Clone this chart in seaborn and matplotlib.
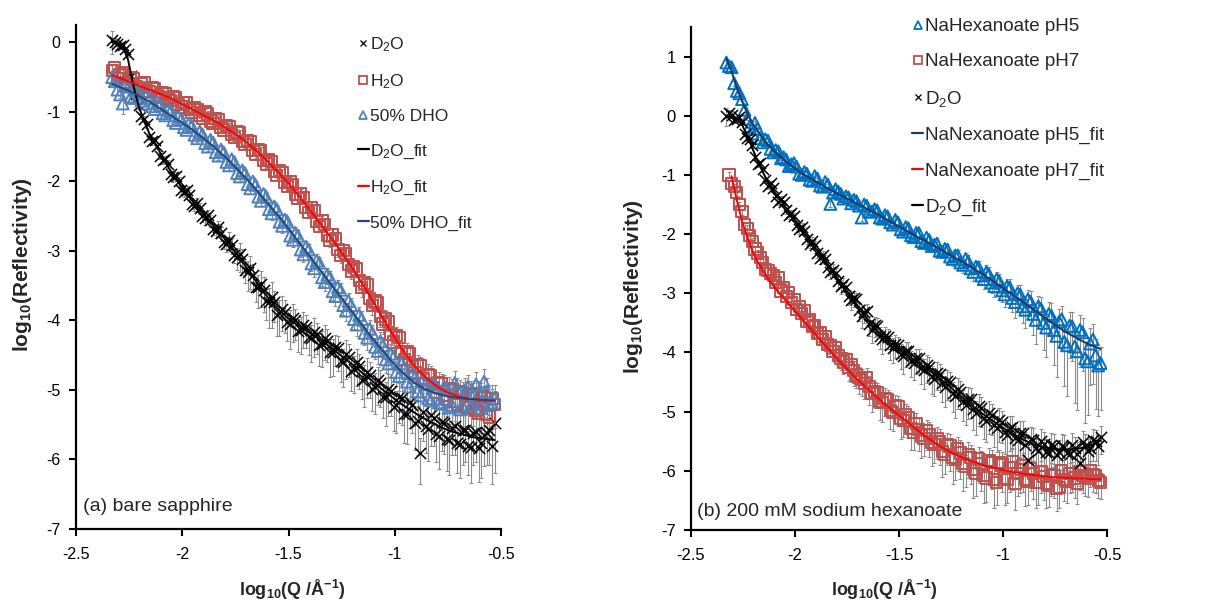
import numpy as np
import pandas as pd
import matplotlib
matplotlib.use("Agg")
import matplotlib.pyplot as plt
import seaborn as sns
from matplotlib.lines import Line2D
from matplotlib.ticker import FuncFormatter, MultipleLocator

# log10(Q) grid (fits use log_q; data points sit on both grids)
log_q = [-2.33, -2.305, -2.28, -2.255, -2.23, -2.205, -2.18, -2.155, -2.13, -2.105,
         -2.08, -2.055, -2.03, -2.005, -1.98, -1.955, -1.93, -1.905, -1.88, -1.855,
         -1.83, -1.805, -1.78, -1.755, -1.73, -1.705, -1.68, -1.655, -1.63, -1.605,
         -1.58, -1.555, -1.53, -1.505, -1.48, -1.455, -1.43, -1.405, -1.38, -1.355,
         -1.33, -1.305, -1.28, -1.255, -1.23, -1.205, -1.18, -1.155, -1.13, -1.105,
         -1.08, -1.055, -1.03, -1.005, -0.98, -0.955, -0.93, -0.905, -0.88, -0.855,
         -0.83, -0.805, -0.78, -0.755, -0.73, -0.705, -0.68, -0.655, -0.63, -0.605,
         -0.58, -0.555, -0.53]
log_q_mid = [-2.3175, -2.2925, -2.2675, -2.2425, -2.2175, -2.1925, -2.1675, -2.1425, -2.1175, -2.0925,
             -2.0675, -2.0425, -2.0175, -1.9925, -1.9675, -1.9425, -1.9175, -1.8925, -1.8675, -1.8425,
             -1.8175, -1.7925, -1.7675, -1.7425, -1.7175, -1.6925, -1.6675, -1.6425, -1.6175, -1.5925,
             -1.5675, -1.5425, -1.5175, -1.4925, -1.4675, -1.4425, -1.4175, -1.3925, -1.3675, -1.3425,
             -1.3175, -1.2925, -1.2675, -1.2425, -1.2175, -1.1925, -1.1675, -1.1425, -1.1175, -1.0925,
             -1.0675, -1.0425, -1.0175, -0.9925, -0.9675, -0.9425, -0.9175, -0.8925, -0.8675, -0.8425,
             -0.8175, -0.7925, -0.7675, -0.7425, -0.7175, -0.6925, -0.6675, -0.6425, -0.6175, -0.5925,
             -0.5675, -0.5425]

# === (a) bare sapphire ===
a_d2o = [0.03, -0.02, -0.04, -0.17, -0.68, -0.90, -1.10, -1.36, -1.40, -1.63,
         -1.68, -1.90, -1.92, -2.12, -2.13, -2.32, -2.31, -2.50, -2.49, -2.68,
         -2.66, -2.87, -2.84, -3.06, -3.05, -3.28, -3.25, -3.52, -3.47, -3.72,
         -3.66, -3.92, -3.83, -4.02, -3.96, -4.15, -4.06, -4.24, -4.16, -4.36,
         -4.25, -4.46, -4.38, -4.58, -4.48, -4.72, -4.60, -4.85, -4.74, -4.98,
         -4.86, -5.10, -4.98, -5.25, -5.10, -5.35, -5.18, -5.47, -5.90, -5.52,
         -5.36, -5.64, -5.46, -5.70, -5.54, -5.76, -5.58, -5.80, -5.62, -5.84,
         -5.65, -5.58, -5.47]
a_d2o_mid = [0.01, -0.05, -0.10, -0.48, -0.74, -1.06, -1.18, -1.42, -1.49, -1.69,
             -1.75, -1.94, -1.99, -2.15, -2.19, -2.35, -2.38, -2.53, -2.56, -2.71,
             -2.74, -2.90, -2.92, -3.09, -3.12, -3.31, -3.34, -3.52, -3.56, -3.73,
             -3.74, -3.89, -3.88, -4.05, -4.00, -4.14, -4.10, -4.25, -4.20, -4.34,
             -4.30, -4.46, -4.40, -4.60, -4.52, -4.70, -4.66, -4.84, -4.78, -4.96,
             -4.90, -5.10, -5.02, -5.22, -5.12, -5.34, -5.22, -5.45, -5.32, -5.56,
             -5.40, -5.66, -5.48, -5.72, -5.52, -5.78, -5.58, -5.82, -5.60, -5.76,
             -5.62, -5.80]
a_d2o_err = [0.20, 0.08, 0.05, 0.04, 0.04, 0.05, 0.04, 0.05, 0.05, 0.05,
             0.06, 0.06, 0.07, 0.06, 0.08, 0.07, 0.09, 0.08, 0.10, 0.09,
             0.12, 0.10, 0.14, 0.12, 0.25, 0.18, 0.30, 0.22, 0.34, 0.28,
             0.45, 0.30, 0.32, 0.28, 0.35, 0.30, 0.33, 0.26, 0.36, 0.30,
             0.32, 0.35, 0.28, 0.30, 0.36, 0.30, 0.34, 0.28, 0.38, 0.32,
             0.35, 0.30, 0.40, 0.34, 0.38, 0.42, 0.36, 0.40, 0.45, 0.38,
             0.44, 0.40, 0.42, 0.46, 0.40, 0.44, 0.50, 0.42, 0.46, 0.48,
             0.44, 0.50, 0.72]
a_d2o_mid_err = [0.06, 0.05, 0.04, 0.05, 0.05, 0.04, 0.05, 0.05, 0.05, 0.06,
                 0.06, 0.07, 0.06, 0.07, 0.08, 0.08, 0.09, 0.09, 0.10, 0.11,
                 0.11, 0.12, 0.13, 0.18, 0.22, 0.26, 0.24, 0.30, 0.32, 0.38,
                 0.28, 0.34, 0.30, 0.36, 0.28, 0.34, 0.30, 0.35, 0.28, 0.33,
                 0.30, 0.34, 0.32, 0.36, 0.30, 0.35, 0.32, 0.40, 0.33, 0.38,
                 0.34, 0.42, 0.36, 0.40, 0.38, 0.44, 0.40, 0.48, 0.42, 0.46,
                 0.40, 0.48, 0.44, 0.50, 0.42, 0.48, 0.46, 0.52, 0.44, 0.50,
                 0.46, 0.55]
a_d2o_fit = [0.00, -0.01, -0.06, -0.25, -0.62, -0.92, -1.13, -1.31, -1.45, -1.58,
             -1.72, -1.85, -1.96, -2.07, -2.17, -2.27, -2.36, -2.45, -2.54, -2.63,
             -2.72, -2.81, -2.90, -3.00, -3.10, -3.21, -3.32, -3.43, -3.54, -3.64,
             -3.73, -3.82, -3.89, -3.96, -4.02, -4.07, -4.12, -4.17, -4.22, -4.27,
             -4.32, -4.38, -4.44, -4.50, -4.56, -4.62, -4.68, -4.75, -4.81, -4.87,
             -4.94, -5.00, -5.06, -5.12, -5.18, -5.23, -5.28, -5.33, -5.38, -5.42,
             -5.46, -5.50, -5.54, -5.57, -5.60, -5.62, -5.64, -5.66, -5.68, -5.69,
             -5.70, -5.71, -5.72]

a_h2o = [-0.40, -0.52, -0.44, -0.61, -0.52, -0.66, -0.58, -0.71, -0.66, -0.79,
         -0.73, -0.84, -0.79, -0.93, -0.87, -1.01, -0.96, -1.09, -1.03, -1.17,
         -1.11, -1.26, -1.21, -1.37, -1.30, -1.47, -1.43, -1.61, -1.56, -1.75,
         -1.71, -1.91, -1.87, -2.07, -2.04, -2.25, -2.23, -2.45, -2.42, -2.65,
         -2.62, -2.85, -2.82, -3.06, -3.04, -3.29, -3.26, -3.53, -3.49, -3.78,
         -3.75, -4.05, -4.01, -4.31, -4.24, -4.56, -4.47, -4.75, -4.65, -4.91,
         -4.79, -5.03, -4.91, -5.13, -4.99, -5.21, -5.04, -5.26, -5.07, -5.33,
         -5.11, -5.39, -5.21]
a_h2o_mid = [-0.36, -0.47, -0.58, -0.50, -0.64, -0.60, -0.70, -0.65, -0.76, -0.72,
             -0.81, -0.78, -0.89, -0.86, -0.97, -0.94, -1.05, -1.00, -1.13, -1.09,
             -1.22, -1.19, -1.32, -1.29, -1.43, -1.41, -1.55, -1.54, -1.70, -1.68,
             -1.85, -1.84, -2.01, -2.00, -2.18, -2.18, -2.37, -2.37, -2.57, -2.57,
             -2.77, -2.77, -2.98, -2.99, -3.20, -3.22, -3.43, -3.46, -3.68, -3.72,
             -3.94, -3.98, -4.20, -4.22, -4.45, -4.45, -4.66, -4.64, -4.83, -4.78,
             -4.96, -4.90, -5.08, -4.98, -5.16, -5.02, -5.22, -5.05, -5.30, -5.08,
             -5.35, -5.12]
a_h2o_err = [0.10, 0.05, 0.04, 0.04, 0.03, 0.03, 0.03, 0.03, 0.03, 0.03,
             0.03, 0.03, 0.03, 0.03, 0.04, 0.03, 0.04, 0.04, 0.04, 0.04,
             0.05, 0.04, 0.05, 0.05, 0.05, 0.05, 0.06, 0.05, 0.06, 0.06,
             0.06, 0.07, 0.06, 0.07, 0.08, 0.07, 0.08, 0.08, 0.09, 0.08,
             0.10, 0.09, 0.10, 0.11, 0.10, 0.12, 0.11, 0.13, 0.12, 0.14,
             0.13, 0.15, 0.14, 0.16, 0.15, 0.18, 0.16, 0.20, 0.18, 0.22,
             0.20, 0.24, 0.22, 0.25, 0.24, 0.28, 0.25, 0.30, 0.27, 0.32,
             0.28, 0.30, 0.34]
a_h2o_mid_err = [0.06, 0.05, 0.04, 0.03, 0.03, 0.03, 0.03, 0.03, 0.03, 0.03,
                 0.03, 0.03, 0.03, 0.04, 0.04, 0.04, 0.04, 0.04, 0.04, 0.05,
                 0.05, 0.05, 0.05, 0.05, 0.05, 0.06, 0.06, 0.06, 0.06, 0.07,
                 0.07, 0.07, 0.07, 0.08, 0.08, 0.08, 0.08, 0.09, 0.09, 0.09,
                 0.10, 0.10, 0.11, 0.11, 0.12, 0.12, 0.13, 0.13, 0.14, 0.14,
                 0.15, 0.15, 0.16, 0.17, 0.18, 0.19, 0.20, 0.21, 0.22, 0.23,
                 0.24, 0.25, 0.26, 0.26, 0.28, 0.28, 0.30, 0.30, 0.32, 0.32,
                 0.34, 0.34]
a_h2o_fit = [-0.47, -0.50, -0.53, -0.56, -0.59, -0.62, -0.65, -0.68, -0.71, -0.74,
             -0.77, -0.80, -0.84, -0.88, -0.92, -0.96, -1.00, -1.04, -1.08, -1.12,
             -1.16, -1.21, -1.26, -1.31, -1.36, -1.42, -1.48, -1.55, -1.62, -1.69,
             -1.77, -1.85, -1.93, -2.01, -2.10, -2.19, -2.29, -2.39, -2.49, -2.59,
             -2.69, -2.79, -2.89, -3.00, -3.11, -3.22, -3.34, -3.46, -3.58, -3.71,
             -3.84, -3.97, -4.10, -4.22, -4.34, -4.46, -4.56, -4.66, -4.74, -4.82,
             -4.88, -4.94, -4.99, -5.03, -5.06, -5.09, -5.11, -5.12, -5.13, -5.14,
             -5.15, -5.15, -5.16]

a_dho = [-0.50, -0.68, -0.88, -0.64, -0.80, -0.72, -0.88, -0.80, -0.96, -0.90,
         -1.05, -0.99, -1.16, -1.10, -1.26, -1.20, -1.38, -1.32, -1.50, -1.44,
         -1.63, -1.58, -1.77, -1.72, -1.93, -1.88, -2.10, -2.05, -2.28, -2.22,
         -2.46, -2.40, -2.64, -2.58, -2.84, -2.78, -3.05, -2.98, -3.25, -3.17,
         -3.45, -3.38, -3.65, -3.56, -3.86, -3.78, -4.06, -3.98, -4.25, -4.18,
         -4.44, -4.36, -4.62, -4.52, -4.80, -4.68, -4.95, -4.82, -5.08, -4.92,
         -5.15, -4.96, -5.20, -4.98, -5.22, -5.00, -5.24, -4.95, -5.20, -5.05,
         -4.88, -5.22, -5.12]
a_dho_mid = [-0.56, -0.75, -0.62, -0.78, -0.70, -0.84, -0.76, -0.92, -0.86, -1.02,
             -0.96, -1.12, -1.06, -1.22, -1.16, -1.33, -1.28, -1.45, -1.40, -1.58,
             -1.54, -1.72, -1.68, -1.88, -1.84, -2.04, -2.00, -2.22, -2.18, -2.40,
             -2.36, -2.58, -2.55, -2.78, -2.74, -2.98, -2.94, -3.18, -3.14, -3.38,
             -3.34, -3.58, -3.52, -3.78, -3.72, -3.98, -3.92, -4.18, -4.12, -4.38,
             -4.30, -4.56, -4.48, -4.74, -4.62, -4.88, -4.76, -5.02, -4.86, -5.12,
             -4.92, -5.18, -4.95, -5.25, -4.90, -5.28, -5.00, -5.22, -4.92, -5.26,
             -5.02, -5.18]
a_dho_err = [0.12, 0.08, 0.15, 0.05, 0.05, 0.04, 0.04, 0.04, 0.04, 0.04,
             0.04, 0.04, 0.05, 0.04, 0.05, 0.05, 0.05, 0.05, 0.06, 0.05,
             0.06, 0.06, 0.07, 0.06, 0.07, 0.07, 0.08, 0.07, 0.08, 0.08,
             0.09, 0.08, 0.10, 0.09, 0.10, 0.10, 0.11, 0.10, 0.12, 0.11,
             0.13, 0.12, 0.14, 0.13, 0.15, 0.14, 0.16, 0.15, 0.18, 0.16,
             0.19, 0.18, 0.20, 0.19, 0.22, 0.20, 0.24, 0.22, 0.26, 0.24,
             0.27, 0.25, 0.28, 0.26, 0.30, 0.28, 0.30, 0.28, 0.32, 0.30,
             0.30, 0.32, 0.34]
a_dho_mid_err = [0.06, 0.05, 0.05, 0.04, 0.04, 0.04, 0.04, 0.04, 0.04, 0.04,
                 0.04, 0.05, 0.05, 0.05, 0.05, 0.05, 0.05, 0.06, 0.06, 0.06,
                 0.06, 0.07, 0.07, 0.07, 0.07, 0.08, 0.08, 0.08, 0.08, 0.09,
                 0.09, 0.09, 0.10, 0.10, 0.10, 0.11, 0.11, 0.11, 0.12, 0.12,
                 0.13, 0.13, 0.14, 0.14, 0.15, 0.15, 0.16, 0.17, 0.18, 0.18,
                 0.19, 0.20, 0.20, 0.21, 0.22, 0.23, 0.24, 0.25, 0.26, 0.26,
                 0.27, 0.28, 0.28, 0.29, 0.30, 0.30, 0.30, 0.31, 0.32, 0.32,
                 0.33, 0.34]
a_dho_fit = [-0.60, -0.63, -0.66, -0.69, -0.73, -0.77, -0.81, -0.85, -0.90, -0.95,
             -1.00, -1.05, -1.10, -1.15, -1.20, -1.25, -1.31, -1.37, -1.43, -1.49,
             -1.56, -1.63, -1.70, -1.78, -1.86, -1.94, -2.02, -2.11, -2.20, -2.29,
             -2.38, -2.47, -2.56, -2.66, -2.76, -2.86, -2.96, -3.06, -3.16, -3.26,
             -3.36, -3.46, -3.56, -3.66, -3.76, -3.86, -3.96, -4.06, -4.16, -4.26,
             -4.35, -4.44, -4.53, -4.62, -4.70, -4.77, -4.84, -4.90, -4.95, -4.99,
             -5.02, -5.05, -5.07, -5.09, -5.10, -5.11, -5.12, -5.13, -5.13, -5.14,
             -5.14, -5.15, -5.15]

# === (b) 200 mM sodium hexanoate ===
b_ph5 = [0.90, 0.82, 0.42, 0.28, -0.05, -0.30, -0.22, -0.45, -0.42, -0.62,
         -0.60, -0.70, -0.85, -0.80, -0.98, -0.95, -1.08, -1.02, -1.18, -1.12,
         -1.49, -1.24, -1.32, -1.36, -1.48, -1.44, -1.72, -1.52, -1.62, -1.60,
         -1.74, -1.70, -1.84, -1.80, -1.96, -1.90, -2.05, -1.98, -2.15, -2.10,
         -2.18, -2.28, -2.25, -2.38, -2.36, -2.48, -2.42, -2.58, -2.55, -2.70,
         -2.64, -2.82, -2.76, -2.95, -2.88, -3.08, -3.00, -3.22, -3.10, -3.35,
         -3.22, -3.50, -3.35, -3.62, -3.48, -3.82, -3.55, -3.90, -3.62, -4.10,
         -3.85, -4.05, -4.18]
b_ph5_mid = [0.84, 0.55, 0.38, 0.10, -0.18, -0.12, -0.38, -0.40, -0.56, -0.58,
             -0.72, -0.74, -0.82, -0.86, -1.00, -0.98, -1.10, -1.06, -1.20, -1.16,
             -1.30, -1.28, -1.40, -1.38, -1.42, -1.52, -1.50, -1.62, -1.58, -1.72,
             -1.68, -1.80, -1.76, -1.92, -1.88, -2.02, -1.98, -2.12, -2.06, -2.20,
             -2.16, -2.30, -2.26, -2.42, -2.36, -2.52, -2.46, -2.64, -2.56, -2.76,
             -2.68, -2.88, -2.80, -3.02, -2.90, -3.15, -3.02, -3.28, -3.14, -3.45,
             -3.26, -3.58, -3.38, -3.72, -3.44, -3.88, -3.56, -3.98, -3.66, -4.15,
             -3.78, -4.22]
b_ph5_err = [0.05, 0.04, 0.04, 0.03, 0.03, 0.03, 0.03, 0.03, 0.03, 0.03,
             0.03, 0.03, 0.04, 0.03, 0.04, 0.04, 0.04, 0.04, 0.05, 0.04,
             0.05, 0.05, 0.05, 0.05, 0.06, 0.05, 0.06, 0.06, 0.06, 0.07,
             0.07, 0.07, 0.08, 0.07, 0.08, 0.08, 0.09, 0.08, 0.10, 0.09,
             0.10, 0.11, 0.10, 0.12, 0.11, 0.13, 0.12, 0.14, 0.13, 0.16,
             0.15, 0.18, 0.16, 0.20, 0.18, 0.24, 0.22, 0.28, 0.25, 0.35,
             0.30, 0.45, 0.38, 0.60, 0.45, 0.75, 0.55, 0.95, 0.62, 1.10,
             0.70, 0.90, 0.80]
b_ph5_mid_err = [0.04, 0.04, 0.03, 0.03, 0.03, 0.03, 0.03, 0.03, 0.03, 0.03,
                 0.03, 0.03, 0.03, 0.04, 0.04, 0.04, 0.04, 0.04, 0.05, 0.05,
                 0.05, 0.05, 0.05, 0.06, 0.06, 0.06, 0.06, 0.06, 0.07, 0.07,
                 0.07, 0.08, 0.08, 0.08, 0.08, 0.09, 0.09, 0.09, 0.10, 0.10,
                 0.11, 0.11, 0.12, 0.12, 0.13, 0.13, 0.14, 0.15, 0.15, 0.17,
                 0.17, 0.19, 0.19, 0.22, 0.21, 0.26, 0.25, 0.30, 0.30, 0.40,
                 0.35, 0.50, 0.42, 0.70, 0.50, 0.85, 0.58, 1.00, 0.65, 0.90,
                 0.75, 0.85]
b_ph5_fit = [0.97, 0.75, 0.48, 0.25, 0.05, -0.12, -0.26, -0.38, -0.49, -0.58,
             -0.66, -0.74, -0.81, -0.88, -0.94, -1.00, -1.05, -1.10, -1.15, -1.20,
             -1.25, -1.30, -1.34, -1.39, -1.43, -1.48, -1.52, -1.57, -1.61, -1.66,
             -1.71, -1.76, -1.81, -1.86, -1.91, -1.96, -2.01, -2.06, -2.10, -2.15,
             -2.20, -2.25, -2.30, -2.35, -2.40, -2.45, -2.50, -2.55, -2.61, -2.66,
             -2.72, -2.78, -2.84, -2.90, -2.96, -3.02, -3.08, -3.14, -3.21, -3.27,
             -3.33, -3.40, -3.46, -3.52, -3.58, -3.64, -3.69, -3.74, -3.79, -3.83,
             -3.87, -3.91, -3.94]

b_ph7 = [np.nan, -1.15, -1.30, -1.62, -1.90, -2.12, -2.32, -2.48, -2.62, -2.70,
         -2.74, -2.90, -2.98, -3.10, -3.22, -3.30, -3.45, -3.55, -3.66, -3.74,
         -3.88, -3.92, -4.10, -4.12, -4.20, -4.38, -4.45, -4.42, -4.70, -4.68,
         -4.85, -4.80, -5.02, -4.92, -5.15, -5.10, -5.35, -5.30, -5.45, -5.38,
         -5.55, -5.50, -5.72, -5.58, -5.80, -5.70, -5.92, -5.78, -6.05, -5.88,
         -6.12, -5.86, -6.20, -5.90, -6.15, -5.85, -6.05, -5.92, -6.18, -6.05,
         -6.20, -6.10, -6.25, -6.08, -6.28, -6.15, -6.05, -6.12, -6.02, -6.10,
         -6.00, -6.08, -6.20]
b_ph7_mid = [-1.00, -1.20, -1.50, -1.84, -2.02, -2.25, -2.40, -2.60, -2.66, -2.82,
             -2.96, -3.05, -3.16, -3.28, -3.34, -3.48, -3.56, -3.68, -3.78, -3.86,
             -3.98, -4.05, -4.16, -4.25, -4.30, -4.42, -4.52, -4.58, -4.66, -4.82,
             -4.78, -4.98, -4.90, -5.12, -5.05, -5.28, -5.20, -5.40, -5.32, -5.52,
             -5.45, -5.68, -5.55, -5.78, -5.62, -5.88, -5.72, -5.98, -5.80, -6.08,
             -5.82, -6.15, -5.86, -6.12, -5.95, -6.22, -5.98, -6.15, -5.96, -6.20,
             -6.02, -6.22, -6.06, -6.30, -6.00, -6.18, -6.04, -6.22, -6.08, -6.12,
             -6.06, -6.16]
b_ph7_err = [0.00, 0.05, 0.05, 0.05, 0.06, 0.06, 0.06, 0.07, 0.07, 0.08,
             0.08, 0.09, 0.10, 0.10, 0.12, 0.11, 0.13, 0.12, 0.15, 0.14,
             0.18, 0.16, 0.20, 0.18, 0.30, 0.22, 0.28, 0.25, 0.30, 0.26,
             0.32, 0.28, 0.30, 0.32, 0.28, 0.34, 0.30, 0.36, 0.30, 0.38,
             0.32, 0.40, 0.34, 0.42, 0.36, 0.44, 0.36, 0.45, 0.38, 0.46,
             0.40, 0.45, 0.38, 0.46, 0.40, 0.48, 0.38, 0.44, 0.40, 0.42,
             0.38, 0.40, 0.36, 0.38, 0.34, 0.36, 0.32, 0.34, 0.30, 0.32,
             0.28, 0.30, 0.28]
b_ph7_mid_err = [0.05, 0.05, 0.05, 0.06, 0.06, 0.06, 0.07, 0.07, 0.08, 0.08,
                 0.09, 0.09, 0.10, 0.11, 0.12, 0.12, 0.13, 0.14, 0.15, 0.16,
                 0.17, 0.18, 0.20, 0.24, 0.26, 0.28, 0.26, 0.30, 0.28, 0.32,
                 0.30, 0.32, 0.30, 0.34, 0.30, 0.36, 0.32, 0.38, 0.33, 0.40,
                 0.35, 0.42, 0.36, 0.44, 0.38, 0.46, 0.40, 0.48, 0.40, 0.46,
                 0.42, 0.48, 0.40, 0.46, 0.40, 0.45, 0.40, 0.44, 0.38, 0.42,
                 0.36, 0.40, 0.36, 0.38, 0.34, 0.36, 0.32, 0.34, 0.30, 0.32,
                 0.30, 0.30]
b_ph7_fit = [np.nan, -1.02, -1.42, -1.78, -2.04, -2.28, -2.46, -2.61, -2.75, -2.87,
             -2.98, -3.08, -3.18, -3.28, -3.38, -3.48, -3.58, -3.68, -3.78, -3.88,
             -3.98, -4.08, -4.17, -4.26, -4.35, -4.44, -4.52, -4.60, -4.68, -4.76,
             -4.84, -4.91, -4.98, -5.05, -5.12, -5.19, -5.26, -5.33, -5.40, -5.46,
             -5.52, -5.58, -5.63, -5.68, -5.72, -5.76, -5.80, -5.83, -5.86, -5.89,
             -5.92, -5.94, -5.96, -5.98, -6.00, -6.02, -6.03, -6.05, -6.06, -6.07,
             -6.08, -6.09, -6.10, -6.11, -6.11, -6.12, -6.12, -6.13, -6.13, -6.13,
             -6.14, -6.14, -6.14]

b_d2o = [0.00, 0.02, -0.05, -0.10, -0.38, -0.50, -0.82, -0.90, -1.18, -1.22,
         -1.45, -1.46, -1.68, -1.70, -1.92, -1.94, -2.16, -2.18, -2.40, -2.42,
         -2.64, -2.65, -2.88, -2.90, -3.12, -3.10, -3.38, -3.30, -3.62, -3.55,
         -3.78, -3.74, -3.92, -3.88, -4.06, -3.98, -4.18, -4.10, -4.30, -4.24,
         -4.44, -4.36, -4.58, -4.50, -4.74, -4.66, -4.88, -4.78, -5.02, -4.94,
         -5.15, -5.06, -5.28, -5.18, -5.40, -5.26, -5.48, -5.36, -5.82, -5.48,
         -5.66, -5.55, -5.70, -5.58, -5.68, -5.60, -5.72, -5.62, -5.86, -5.58,
         -5.62, -5.50, -5.42]
b_d2o_mid = [0.04, -0.08, -0.02, -0.30, -0.40, -0.70, -0.80, -1.08, -1.14, -1.36,
             -1.40, -1.60, -1.64, -1.84, -1.88, -2.08, -2.12, -2.32, -2.36, -2.56,
             -2.60, -2.80, -2.84, -3.05, -3.08, -3.28, -3.32, -3.52, -3.54, -3.72,
             -3.72, -3.88, -3.86, -4.02, -3.98, -4.14, -4.10, -4.26, -4.22, -4.40,
             -4.34, -4.52, -4.48, -4.68, -4.62, -4.82, -4.78, -4.96, -4.90, -5.10,
             -5.02, -5.22, -5.14, -5.34, -5.28, -5.44, -5.36, -5.56, -5.46, -5.62,
             -5.50, -5.68, -5.56, -5.74, -5.58, -5.70, -5.56, -5.72, -5.52, -5.66,
             -5.48, -5.58]
b_d2o_err = [0.18, 0.06, 0.05, 0.04, 0.04, 0.04, 0.04, 0.04, 0.05, 0.05,
             0.05, 0.05, 0.06, 0.06, 0.07, 0.07, 0.08, 0.08, 0.10, 0.09,
             0.12, 0.10, 0.14, 0.12, 0.16, 0.14, 0.20, 0.16, 0.22, 0.18,
             0.25, 0.20, 0.26, 0.22, 0.30, 0.24, 0.28, 0.25, 0.32, 0.26,
             0.30, 0.28, 0.34, 0.30, 0.36, 0.30, 0.34, 0.32, 0.38, 0.32,
             0.36, 0.34, 0.40, 0.35, 0.38, 0.36, 0.42, 0.38, 0.45, 0.38,
             0.40, 0.38, 0.42, 0.36, 0.40, 0.38, 0.44, 0.38, 0.40, 0.36,
             0.38, 0.34, 0.30]
b_d2o_mid_err = [0.06, 0.05, 0.04, 0.04, 0.04, 0.04, 0.04, 0.05, 0.05, 0.05,
                 0.05, 0.06, 0.06, 0.07, 0.07, 0.08, 0.08, 0.09, 0.10, 0.11,
                 0.11, 0.12, 0.13, 0.14, 0.15, 0.18, 0.18, 0.20, 0.20, 0.22,
                 0.22, 0.24, 0.24, 0.26, 0.26, 0.27, 0.27, 0.28, 0.29, 0.30,
                 0.30, 0.31, 0.32, 0.33, 0.33, 0.34, 0.34, 0.35, 0.35, 0.36,
                 0.36, 0.37, 0.37, 0.38, 0.38, 0.40, 0.40, 0.42, 0.40, 0.40,
                 0.40, 0.42, 0.40, 0.40, 0.40, 0.42, 0.38, 0.40, 0.38, 0.36,
                 0.36, 0.32]
b_d2o_fit = [-0.01, -0.03, -0.06, -0.15, -0.33, -0.55, -0.76, -0.95, -1.12, -1.26,
             -1.38, -1.50, -1.62, -1.74, -1.86, -1.98, -2.10, -2.22, -2.34, -2.46,
             -2.58, -2.70, -2.82, -2.94, -3.06, -3.18, -3.30, -3.42, -3.53, -3.63,
             -3.72, -3.80, -3.87, -3.94, -4.00, -4.06, -4.12, -4.18, -4.24, -4.30,
             -4.37, -4.44, -4.51, -4.58, -4.66, -4.73, -4.81, -4.88, -4.95, -5.02,
             -5.08, -5.14, -5.20, -5.26, -5.32, -5.37, -5.42, -5.47, -5.51, -5.55,
             -5.58, -5.60, -5.62, -5.63, -5.64, -5.64, -5.64, -5.63, -5.62, -5.60,
             -5.57, -5.53, -5.49]

# colours
BLACK = "#000000"
RED_MK = "#C0504D"
BLUE_MK_A = "#4F81BD"
BLUE_MK_B = "#0070C0"
RED_FIT = "#FF0000"
NAVY_A = "#1F497D"
NAVY_B = "#203864"
ERR_GREY = "#8c8c8c"

sns.set_style("ticks")
plt.rcParams["font.family"] = ["Liberation Sans", "DejaVu Sans"]
plt.rcParams["mathtext.fontset"] = "custom"
plt.rcParams["mathtext.rm"] = "Liberation Sans"
plt.rcParams["mathtext.it"] = "Liberation Sans:italic"
plt.rcParams["mathtext.bf"] = "Liberation Sans:bold"
plt.rcParams["axes.unicode_minus"] = False

D2O = "D$_\\mathregular{2}$O"
H2O = "H$_\\mathregular{2}$O"


def draw_data(ax, y, y_mid, err, err_mid, marker, color, size, lw):
    df = pd.DataFrame({"q": log_q + log_q_mid, "r": y + y_mid, "lo": err + err_mid})
    df = df.dropna().sort_values("q")
    lo = df["lo"].to_numpy()
    up = np.log10(2 - 10 ** (-lo))  # asymmetric bars from a symmetric dR
    ax.errorbar(df["q"], df["r"], yerr=[lo, up], fmt="none", ecolor=ERR_GREY,
                elinewidth=0.8, capsize=1.5, capthick=0.8, zorder=1)
    if marker == "x":
        sns.scatterplot(data=df, x="q", y="r", marker="x", color=color, s=size,
                        linewidth=lw, ax=ax, zorder=3, legend=False)
    else:
        sns.scatterplot(data=df, x="q", y="r", marker=marker, facecolor="none",
                        edgecolor=color, s=size, linewidth=lw, ax=ax, zorder=3,
                        legend=False)


def draw_fit(ax, fit, color):
    df = pd.DataFrame({"q": log_q, "fit": fit}).dropna()
    sns.lineplot(data=df, x="q", y="fit", color=color, linewidth=1.4, ax=ax,
                 zorder=4, estimator=None, sort=False)


def style_axes(ax, ylo, yhi, tick_fs):
    ax.set_xlim(-2.5, -0.5)
    ax.set_ylim(ylo, yhi)
    ax.xaxis.set_major_locator(MultipleLocator(0.5))
    ax.yaxis.set_major_locator(MultipleLocator(1))
    fmt = FuncFormatter(lambda v, p: "%g" % v)
    ax.xaxis.set_major_formatter(fmt)
    ax.yaxis.set_major_formatter(fmt)
    ax.tick_params(direction="out", length=5, width=1.5, labelsize=tick_fs, pad=6,
                   colors="black")
    ax.tick_params(axis="x", pad=8)
    sns.despine(ax=ax)
    for s in ["left", "bottom"]:
        ax.spines[s].set_linewidth(1.6)
        ax.spines[s].set_color("black")
    ax.set_xlabel("log$_\\mathbf{10}$(Q /Å$^\\mathbf{-1}$)", fontsize=13,
                  fontweight="bold")
    ax.set_ylabel("log$_\\mathbf{10}$(Reflectivity)", fontsize=15,
                  fontweight="bold")
    ax.xaxis.label.set_va("center")
    ax.yaxis.label.set_va("center")
    ax.patch.set_alpha(0)


def mk_handle(marker, color, label):
    if marker == "x":
        return Line2D([], [], ls="none", marker="x", color=color, ms=5,
                      mew=0.9, label=label)
    return Line2D([], [], ls="none", marker=marker, mfc="none", mec=color,
                  ms=6, mew=1.3, label=label)


def fit_handle(color, label):
    return Line2D([], [], color=color, lw=1.6, label=label)


fig = plt.figure(figsize=(12.13, 6.03), dpi=100)
ax1 = fig.add_axes([76 / 1213, 1 - 529 / 603, 425 / 1213, 504 / 603])
ax2 = fig.add_axes([691 / 1213, 1 - 530 / 603, 416 / 1213, 503 / 603])

# --- panel (a) ---
draw_data(ax1, a_d2o, a_d2o_mid, a_d2o_err, a_d2o_mid_err, "x", BLACK, 65, 1.1)
draw_data(ax1, a_h2o, a_h2o_mid, a_h2o_err, a_h2o_mid_err, "s", RED_MK, 65, 1.4)
draw_data(ax1, a_dho, a_dho_mid, a_dho_err, a_dho_mid_err, "^", BLUE_MK_A, 72, 1.4)
draw_fit(ax1, a_d2o_fit, BLACK)
draw_fit(ax1, a_h2o_fit, RED_FIT)
draw_fit(ax1, a_dho_fit, NAVY_A)
style_axes(ax1, -7, 0.25, 11.5)
ax1.xaxis.set_label_coords(0.508, -0.121)
ax1.yaxis.set_label_coords(-0.127, 0.524)
ax1.text(0.016, 0.044, "(a) bare sapphire", transform=ax1.transAxes,
         fontsize=14, va="center", ha="left")
handles_a = [mk_handle("x", BLACK, D2O), mk_handle("s", RED_MK, H2O),
             mk_handle("^", BLUE_MK_A, "50% DHO"),
             fit_handle(BLACK, D2O + "_fit"), fit_handle(RED_FIT, H2O + "_fit"),
             fit_handle(NAVY_A, "50% DHO_fit")]
ax1.legend(handles=handles_a, loc="upper left", bbox_to_anchor=(0.664, 0.98),
           frameon=False, fontsize=12.5, handlelength=0.6, handletextpad=0.1,
           labelspacing=1.05, borderaxespad=0, borderpad=0)

# --- panel (b) ---
draw_data(ax2, b_ph5, b_ph5_mid, b_ph5_err, b_ph5_mid_err, "^", BLUE_MK_B, 72, 1.4)
draw_data(ax2, b_ph7, b_ph7_mid, b_ph7_err, b_ph7_mid_err, "s", RED_MK, 65, 1.4)
draw_data(ax2, b_d2o, b_d2o_mid, b_d2o_err, b_d2o_mid_err, "x", BLACK, 65, 1.1)
draw_fit(ax2, b_ph5_fit, NAVY_B)
draw_fit(ax2, b_ph7_fit, RED_FIT)
draw_fit(ax2, b_d2o_fit, BLACK)
style_axes(ax2, -7, 1.5, 12)
ax2.xaxis.set_label_coords(0.464, -0.12)
ax2.yaxis.set_label_coords(-0.139, 0.483)
ax2.text(0.014, 0.036, "(b) 200 mM sodium hexanoate", transform=ax2.transAxes,
         fontsize=14, va="center", ha="left")
handles_b = [mk_handle("^", BLUE_MK_B, "NaHexanoate pH5"),
             mk_handle("s", RED_MK, "NaHexanoate pH7"),
             mk_handle("x", BLACK, D2O),
             fit_handle(NAVY_B, "NaNexanoate pH5_fit"),
             fit_handle(RED_FIT, "NaNexanoate pH7_fit"),
             fit_handle(BLACK, D2O + "_fit")]
ax2.legend(handles=handles_b, loc="upper left", bbox_to_anchor=(0.531, 1.018),
           frameon=False, fontsize=13.5, handlelength=0.6, handletextpad=0.1,
           labelspacing=0.97, borderaxespad=0, borderpad=0)

fig.savefig("out.png", dpi=100)
